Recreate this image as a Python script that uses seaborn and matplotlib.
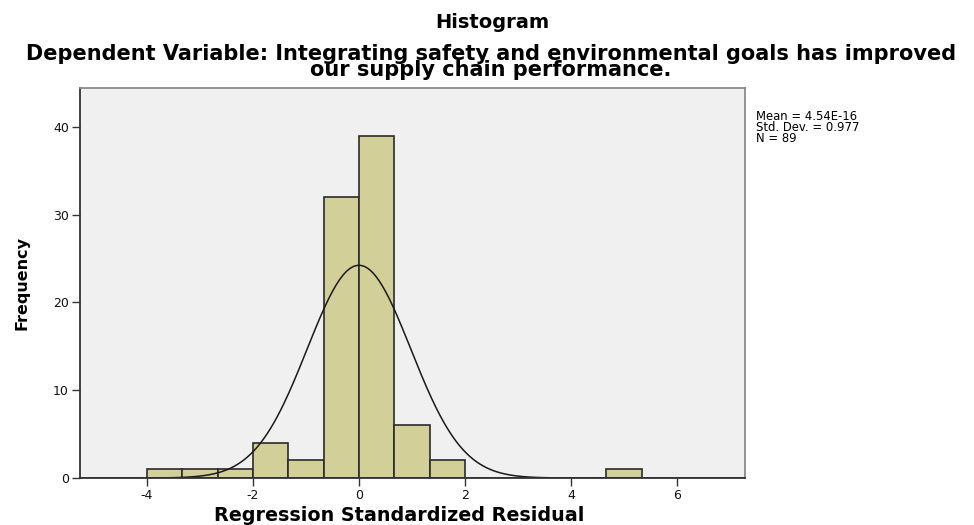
import numpy as np
import pandas as pd
import seaborn as sns
import matplotlib.pyplot as plt

# bin start values and frequencies
bin_starts = [-4.0, -3.333, -2.667, -2.0, -1.333, -0.667, 0.0, 0.667, 1.333, 4.667]
counts = [1, 1, 1, 4, 2, 32, 39, 6, 2, 1]
bin_width = 2 / 3
mean, sd, n = 4.54e-16, 0.977, 89
xticks = [-4, -2, 0, 2, 4, 6]
yticks = [0, 10, 20, 30, 40]

sns.set_style("white")
plt.rcParams['font.family'] = ['DejaVu Sans']
plt.rcParams['axes.unicode_minus'] = False
plt.rcParams['text.color'] = 'black'
plt.rcParams['axes.labelcolor'] = 'black'

fig = plt.figure(figsize=(9.74, 5.25), dpi=100)
ax = fig.add_axes([0.0821, 0.0895, 0.6829, 0.7425])
ax.set_facecolor('#f0f0f0')

df = pd.DataFrame({'resid': np.array(bin_starts) + bin_width / 2, 'freq': counts})
sns.histplot(data=df, x='resid', weights='freq', binwidth=bin_width,
             binrange=(-4, 5.3334), color='#d3cf98', alpha=1,
             edgecolor='#2b2b2b', linewidth=1.2, ax=ax)

# normal curve scaled to the histogram
xs = np.linspace(-5.3, 7.3, 400)
ys = n * bin_width * np.exp(-0.5 * ((xs - mean) / sd) ** 2) / (sd * np.sqrt(2 * np.pi))
sns.lineplot(x=xs, y=ys, color='#1a1a1a', linewidth=1.1, ax=ax)

ax.set_xlim(-5.26, 7.28)
ax.set_ylim(0, 44.4)
ax.set_xticks(xticks)
ax.set_yticks(yticks)
ax.tick_params(axis='both', length=6, width=1, color='#333333', labelsize=9,
               labelcolor='#111111', bottom=True, left=True, pad=2)
for s in ['left', 'bottom']:
    ax.spines[s].set_color('#333333')
    ax.spines[s].set_linewidth(1.3)
for s in ['top', 'right']:
    ax.spines[s].set_color('#8a8a8a')
    ax.spines[s].set_linewidth(1.3)

ax.set_xlabel('')
ax.set_ylabel('Frequency', fontsize=11.5, fontweight='bold', labelpad=17)

fig.text(0.505, 0.958, 'Histogram', ha='center', va='center', fontsize=14, fontweight='bold')
fig.text(0.504, 0.882, 'Dependent Variable: Integrating safety and environmental goals has improved\n'
         'our supply chain performance.', ha='center', va='center', fontsize=15,
         fontweight='bold', linespacing=0.78)
fig.text(0.410, 0.018, 'Regression Standardized Residual', ha='center', va='center',
         fontsize=13.8, fontweight='bold')

fig.text(0.776, 0.758, 'Mean = 4.54E-16\nStd. Dev. = 0.977\nN = 89', ha='left', va='center',
         fontsize=8.4, linespacing=0.8)

fig.savefig('out.png', dpi=100)
